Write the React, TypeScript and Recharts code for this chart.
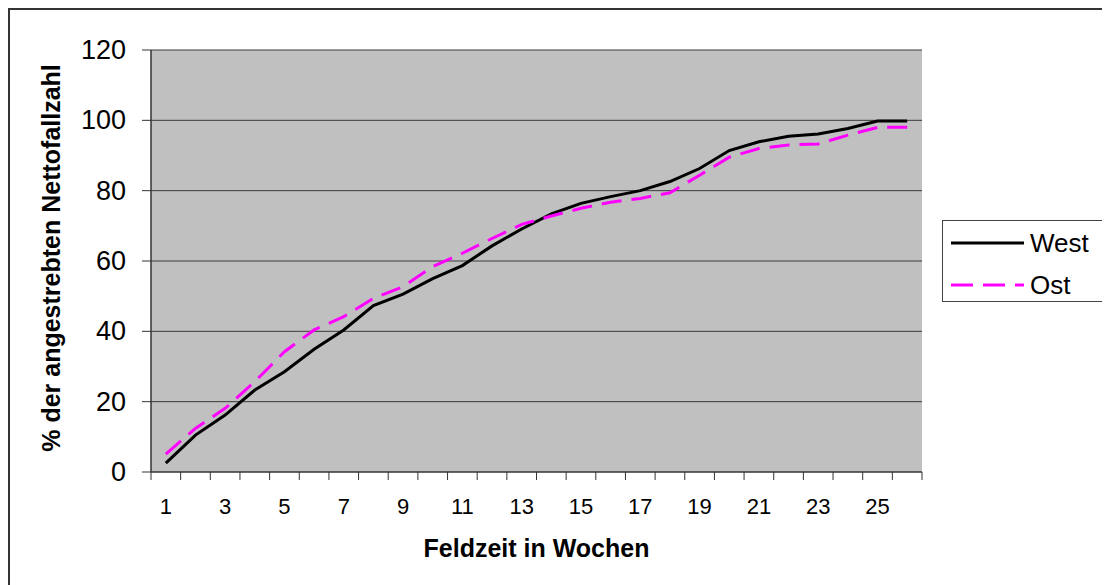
import React from 'react';
import { LineChart, Line, XAxis, YAxis, CartesianGrid, Legend } from 'recharts';

const weeks = [1, 2, 3, 4, 5, 6, 7, 8, 9, 10, 11, 12, 13, 14, 15, 16, 17, 18, 19, 20, 21, 22, 23, 24, 25, 26];
const westValues = [2.5, 10.5, 16.2, 23.3, 28.5, 34.9, 40.4, 47.3, 50.6, 55, 58.7, 64.3, 69.1, 73.4, 76.4, 78.3, 80, 82.6, 86.3, 91.4, 93.9, 95.5, 96.1, 97.7, 99.8, 99.8];
const ostValues = [5.1, 12.4, 18.1, 25.7, 34.2, 40.4, 44.2, 49.4, 52.7, 58.4, 62.2, 66.4, 70.4, 72.8, 75, 76.7, 77.8, 79.4, 84.4, 89.5, 92, 93, 93.3, 95.8, 98, 98];
const xTickLabels = [1, 3, 5, 7, 9, 11, 13, 15, 17, 19, 21, 23, 25];
const yTicks = [0, 20, 40, 60, 80, 100, 120];
const seriesNames = ['West', 'Ost'];
const xTitle = 'Feldzeit in Wochen';
const yTitle = '% der angestrebten Nettofallzahl';

const data = weeks.map((w, i) => ({ week: w, West: westValues[i], Ost: ostValues[i] }));
const boundaryTicks = [...weeks.map((w) => w - 0.5), weeks[weeks.length - 1] + 0.5];
const xTicks = [...boundaryTicks, ...xTickLabels].sort((a, b) => a - b);

const FONT = "Arial, 'Liberation Sans', sans-serif";

const XTick = (props: any) => {
  const { x, y, payload } = props;
  const v = payload.value;
  if (!Number.isInteger(v)) {
    return <line x1={x} y1={y} x2={x} y2={y + 8} stroke="#333" strokeWidth={1} />;
  }
  return (
    <text x={x} y={y + 34} textAnchor="middle" dominantBaseline="central" fontFamily={FONT} fontSize={22} fill="#000">
      {v}
    </text>
  );
};

const YTick = (props: any) => {
  const { x, y, payload } = props;
  return (
    <text x={x} y={y} textAnchor="end" dominantBaseline="central" fontFamily={FONT} fontSize={27} fill="#000">
      {payload.value}
    </text>
  );
};

const LegendContent = () => (
  <div
    style={{
      width: 161,
      height: 80,
      border: '1px solid #444',
      background: '#fff',
      fontFamily: FONT,
      fontSize: 26,
      position: 'relative',
    }}
  >
    <svg width={161} height={80} style={{ position: 'absolute', left: 0, top: 0 }}>
      <line x1={8} y1={22} x2={81} y2={22} stroke="#000" strokeWidth={3} />
      <line x1={8} y1={64} x2={81} y2={64} stroke="#FF00FF" strokeWidth={3} strokeDasharray="22 10" />
      <text x={87} y={22} dominantBaseline="central" fontFamily={FONT} fontSize={26} fill="#000">{seriesNames[0]}</text>
      <text x={87} y={64} dominantBaseline="central" fontFamily={FONT} fontSize={26} fill="#000">{seriesNames[1]}</text>
    </svg>
  </div>
);

export default function App() {
  return (
    <div style={{ borderTop: '2px solid #333', borderLeft: '2px solid #333', width: 1102, height: 577, boxSizing: 'border-box', background: '#fff' }}>
      <LineChart width={1100} height={575} data={data} margin={{ top: 40, right: 188, left: 0, bottom: 0 }}>
        <CartesianGrid vertical={false} horizontal stroke="#3a3a3a" strokeWidth={1} fill="#C0C0C0" fillOpacity={1} />
        <XAxis
          dataKey="week"
          type="number"
          domain={[0.5, 26.5]}
          ticks={xTicks}
          interval={0}
          height={113}
          tickSize={0}
          tickMargin={0}
          tickLine={false}
          axisLine={{ stroke: '#333', strokeWidth: 1 }}
          tick={<XTick />}
          label={{
            content: (p: any) => {
              const vb = p.viewBox;
              return (
                <text x={vb.x + vb.width / 2} y={vb.y + 76} textAnchor="middle" dominantBaseline="central" fontFamily={FONT} fontWeight="bold" fontSize={25} fill="#000">
                  {xTitle}
                </text>
              );
            },
          }}
        />
        <YAxis
          type="number"
          domain={[0, 120]}
          ticks={yTicks}
          interval={0}
          width={141}
          tickSize={9}
          tickMargin={16}
          tickLine={{ stroke: '#333', strokeWidth: 1 }}
          axisLine={{ stroke: '#333', strokeWidth: 1.5 }}
          tick={<YTick />}
          label={{
            content: (p: any) => {
              const vb = p.viewBox;
              const cx = vb.x + 41;
              const cy = vb.y + vb.height / 2 - 3;
              return (
                <text x={cx} y={cy} textAnchor="middle" dominantBaseline="central" transform={`rotate(-90 ${cx} ${cy})`} fontFamily={FONT} fontWeight="bold" fontSize={25} fill="#000">
                  {yTitle}
                </text>
              );
            },
          }}
        />
        <Legend
          layout="horizontal"
          verticalAlign="middle"
          align="center"
          content={<LegendContent />}
          wrapperStyle={{ position: 'absolute', left: 932, top: 210, width: 163, height: 82 }}
        />
        <Line type="linear" dataKey="West" name={seriesNames[0]} stroke="#000" strokeWidth={3} dot={false} isAnimationActive={false} />
        <Line type="linear" dataKey="Ost" name={seriesNames[1]} stroke="#FF00FF" strokeWidth={3} strokeDasharray="20 10" dot={false} isAnimationActive={false} />
      </LineChart>
    </div>
  );
}
